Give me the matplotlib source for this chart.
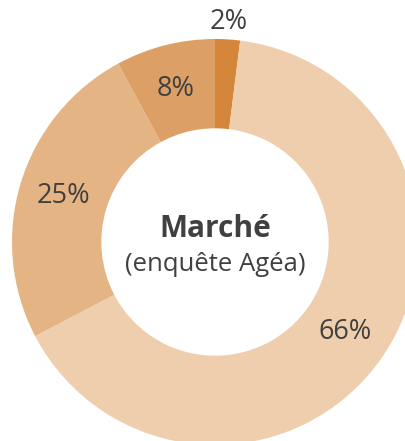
import matplotlib
matplotlib.use("Agg")
from matplotlib import pyplot as plt
import numpy as np

# parts of the donut, clockwise from 12 o'clock
shares = [2, 66, 25, 8]
labels = ["2%", "66%", "25%", "8%"]
colors = ["#D4863A", "#EFCEAE", "#E4B485", "#DCA066"]
title = "Marché"
subtitle = "(enquête Agéa)"

plt.rcParams['font.family'] = ['Open Sans', 'DejaVu Sans']

fig = plt.figure(figsize=(4.05, 4.41), dpi=100)
ax = fig.add_axes([0, 0, 1, 1])

wedges, _ = ax.pie(
    shares, colors=colors, startangle=90, counterclock=False,
    radius=1, wedgeprops=dict(width=0.44, linewidth=0),
)

# label positions: small slice outside, others inside the ring
for w, lab, share in zip(wedges, labels, shares):
    ang = np.deg2rad((w.theta1 + w.theta2) / 2)
    r = 1.085 if share < 5 else 0.78
    ax.text(r * np.cos(ang), r * np.sin(ang), lab, ha='center', va='center',
            fontsize=19.5, color='#404040')

ax.text(0, 0.065, title, ha='center', va='center', fontsize=21.5,
        fontweight='bold', color='#404040')
ax.text(0, -0.11, subtitle, ha='center', va='center', fontsize=18.5,
        color='#404040')

ax.set_xlim(-215 / 203, 190 / 203)
ax.set_ylim(-199 / 203, 242 / 203)
ax.set_aspect('auto')
ax.axis('off')

fig.savefig("out.png", dpi=100)
